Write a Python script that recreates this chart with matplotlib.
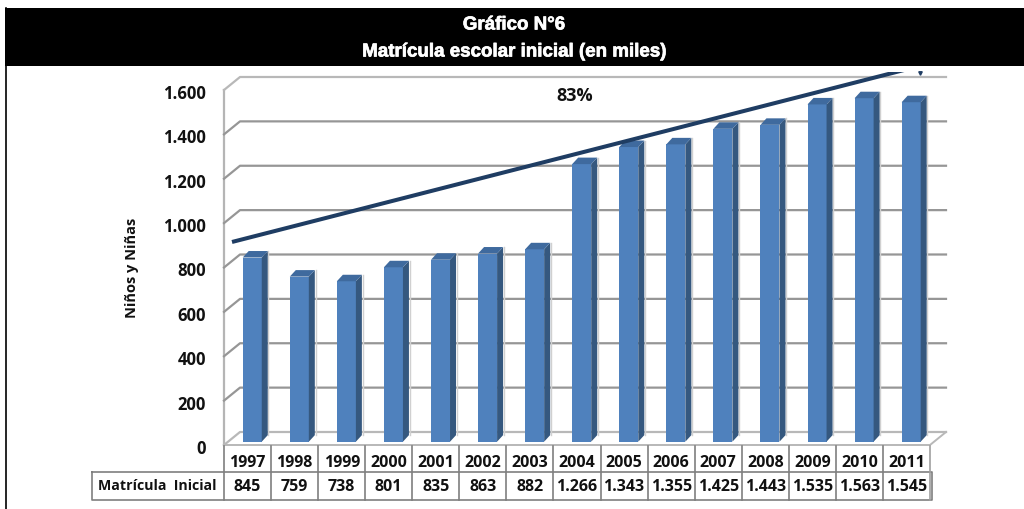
import matplotlib
matplotlib.use("Agg")
import matplotlib.pyplot as plt
import matplotlib.patheffects as pe
from matplotlib.patches import Polygon, Rectangle
from matplotlib.transforms import ScaledTranslation

years = [1997, 1998, 1999, 2000, 2001, 2002, 2003, 2004, 2005, 2006, 2007, 2008, 2009, 2010, 2011]
matricula = [845, 759, 738, 801, 835, 863, 882, 1266, 1343, 1355, 1425, 1443, 1535, 1563, 1545]
yticks = [0, 200, 400, 600, 800, 1000, 1200, 1400, 1600]
trend_x = [0.17, 15.0]
trend_y = [915, 1720]

W, H = 1024, 510
plt.rcParams["font.family"] = ["Open Sans", "DejaVu Sans"]
plt.rcParams["font.weight"] = "bold"
plt.rcParams["axes.labelweight"] = "bold"

def miles(v):
    return f"{v:,}".replace(",", ".")

fig = plt.figure(figsize=(W / 100, H / 100), dpi=100, facecolor="white")

# ejes de datos, la cara frontal del grafico
left, right, y0, y1600 = 224, 930, 446, 91
ax = fig.add_axes([left / W, (H - y0) / H, (right - left) / W, (y0 - y1600) / H], zorder=1)
ax.patch.set_alpha(0)
ax.set_xlim(0, 15)
ax.set_ylim(0, 1600)
ax.set_xticks([])
ax.set_yticks(yticks)
ax.set_yticklabels([miles(v) for v in yticks], fontsize=12, color="#111111", va="center")
ax.tick_params(axis="y", length=0, pad=13)
shift = ScaledTranslation(0, -3 / 100, fig.dpi_scale_trans)
for lab in ax.get_yticklabels():
    lab.set_transform(lab.get_transform() + shift)
for s in ax.spines.values():
    s.set_visible(False)

dx = 16 / ((right - left) / 15)
dy = 13 / ((y0 - y1600) / 1600)

ax.plot([0, 0], [0, 1600], color="#b5b5b5", lw=1.6, clip_on=False, zorder=1)
for v in yticks:
    c = "#b8b8b8" if v in (0, 1600) else "#969696"
    ax.plot([0, dx, 15 + dx], [v, v + dy, v + dy], color=c, lw=1.6, clip_on=False, zorder=1)
# piso
ax.plot([0, 15, 15 + dx], [0, 0, dy], color="#b8b8b8", lw=1.4, clip_on=False, zorder=1)

# barras 3d
bw = 0.404
base = 15
bdx = 6 / ((right - left) / 15)
bdy = 6.5 / ((y0 - y1600) / 1600)
xs = [i + 0.6 for i in range(len(years))]
ax.bar(xs, [v - base for v in matricula], width=bw, bottom=base, color="#4f81bd", clip_on=False, zorder=3)
for x, v in zip(xs, matricula):
    l, r = x - bw / 2, x + bw / 2
    ax.add_patch(Polygon([(r, base), (r + bdx, base + bdy), (r + bdx, v + bdy), (r, v)],
                         closed=True, fc="#35587f", ec="none", clip_on=False, zorder=3))
    ax.add_patch(Polygon([(l, v), (l + bdx, v + bdy), (r + bdx, v + bdy), (r, v)],
                         closed=True, fc="#3f6a9e", ec="none", clip_on=False, zorder=3))
    # sombra suave
    ax.plot([r + bdx + 0.015] * 2, [base + bdy, v + bdy], color="#d0d0d0", lw=1, clip_on=False, zorder=2)

# linea de tendencia
ax.plot(trend_x, trend_y, color="#1f3d63", lw=2.9, solid_capstyle="butt", clip_on=False, zorder=4)
ax.text(0.497, 0.985, "83%", transform=ax.transAxes, ha="center", va="center", fontsize=13, color="#111111", zorder=5)
ax.set_ylabel("Niños y Niñas", fontsize=10.5, color="#111111")
ax.yaxis.set_label_coords((139 - left) / (right - left), (y0 - 268) / (y0 - y1600))

# tapa blanca sobre la linea, titulo y tabla, en pixeles
over = fig.add_axes([0, 0, 1, 1], zorder=2)
over.set_xlim(0, W)
over.set_ylim(H, 0)
over.axis("off")
over.add_patch(Rectangle((6, 60), W, 13, fc="white", ec="none"))
over.add_patch(Rectangle((5, 9), W, 58, fc="black", ec="none"))
over.plot([5.5, 5.5], [9, H], color="black", lw=1.2)
over.plot([920], [73.5], marker="v", ms=2.5, color="#1f3d63")
title_font = ["Liberation Sans", "DejaVu Sans"]
stroke = [pe.withStroke(linewidth=0.5, foreground="white")]
over.text(514, 26, "Gráfico N°6", color="white", ha="center", va="center", fontsize=13.5,
          family=title_font, path_effects=stroke)
over.text(514, 53, "Matrícula escolar inicial (en miles)", color="white", ha="center", va="center", fontsize=13.5,
          family=title_font, path_effects=stroke)

# tabla de datos
slot = (right - left) / 15
row0, row1, row2 = 447, 473, 501
cell_c = "#7f7f7f"
over.plot([92, 932, 932, 92, 92], [row1, row1, row2, row2, row1], color=cell_c, lw=1.2)
for i in range(16):
    x = left + i * slot
    over.plot([x, x], [row0, row2], color="#a0a0a0" if i == 15 else cell_c, lw=1.2)
for i, (yr, v) in enumerate(zip(years, matricula)):
    xc = left + (i + 0.5) * slot
    over.text(xc, 463, str(yr), ha="center", va="center", fontsize=11.5, color="#111111")
    over.text(xc, 487, miles(v), ha="center", va="center", fontsize=11.5, color="#111111")
over.text(157, 486, "Matrícula  Inicial", ha="center", va="center", fontsize=10.2, color="#111111")

fig.savefig("out.png", dpi=100)
